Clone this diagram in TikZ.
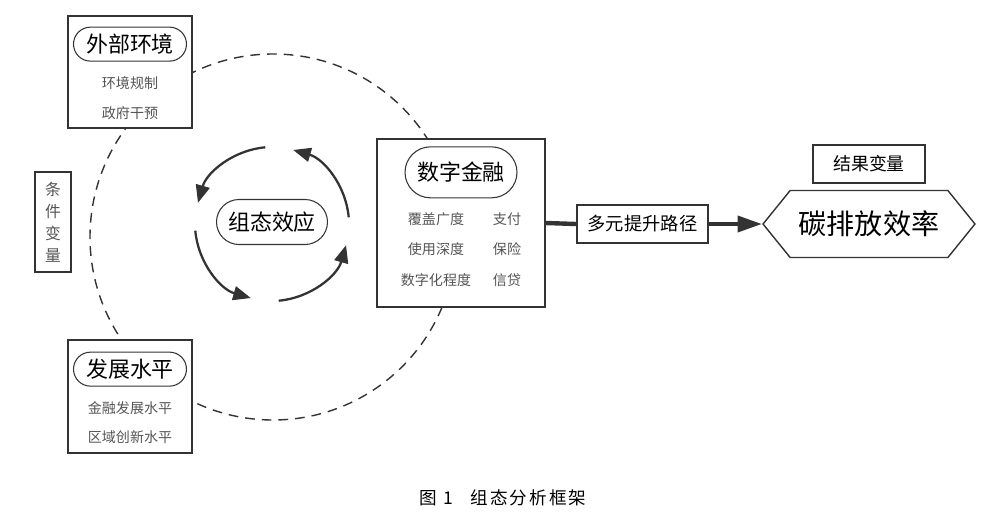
\documentclass[tikz,border=0pt]{standalone}
\usepackage{fontspec}
\usepackage{tikz}
\usetikzlibrary{arrows.meta,positioning,shapes.misc,shapes.symbols}
\newfontfamily\cjk{Noto Sans CJK SC}
\newfontfamily\cjkcap[LetterSpace=12]{Noto Sans CJK SC}
\definecolor{linegray}{HTML}{333333}
\definecolor{textgray}{HTML}{555555}

\begin{document}
\begin{tikzpicture}[x=0.02cm, y=0.02cm,
    every node/.style={inner sep=0pt, font=\cjk},
    outerbox/.style={draw=linegray, line width=0.8pt, fill=white},
    pill/.style={rounded rectangle, draw=linegray, line width=0.6pt, fill=white,
      font=\cjk\fontsize{12.5}{15}\selectfont},
    item/.style={text=textgray, font=\cjk\fontsize{8}{10}\selectfont},
    ring/.style={draw=linegray, line width=0.8pt, dash pattern=on 5.5pt off 4pt},
    spinarc/.style={draw=linegray, line width=1.3pt, -{Triangle[length=10pt, width=8pt]}},
    pipe/.style={draw=linegray, line width=2.5pt}]
  \useasboundingbox (0,0) rectangle (1000,522);

  % dashed ring behind the condition boxes
  \draw[ring] (273,285) circle[radius=183];

  % external environment
  \node[outerbox, minimum width=2.48cm, minimum height=2.24cm] (env) at (130,450) {};
  \node[pill, minimum width=2.26cm, minimum height=0.68cm, below=0.226cm of env.north] (envpill) {外部环境};
  \node[item] (envA) at (130,439) {环境规制};
  \node[item] (envB) at (130,409) {政府干预};

  % condition variable label
  \node[outerbox, minimum width=0.72cm, minimum height=2cm, align=center,
    text=textgray, font=\cjk\fontsize{9}{12.5}\selectfont] (cond) at (53,300) {条\\件\\变\\量};

  % development level
  \node[outerbox, minimum width=2.48cm, minimum height=2.26cm] (dev) at (130,125.5) {};
  \node[pill, minimum width=2.26cm, minimum height=0.68cm, below=0.246cm of dev.north] (devpill) {发展水平};
  \node[item] (devA) at (130,114) {金融发展水平};
  \node[item] (devB) at (130,85) {区域创新水平};

  % configuration effect
  \node[pill, minimum width=2.22cm, minimum height=0.9cm] (cfg) at (272,300) {组态效应};
  \coordinate (spin) at (272,298);
  \foreach \a in {0,90,180,270}
    \draw[spinarc] (spin) ++({\a+5}:77) arc[start angle=\a+5, end angle=\a+74, radius=77];

  % digital finance
  \node[outerbox, minimum width=3.36cm, minimum height=3.36cm] (dfin) at (461,299) {};
  \node[pill, minimum width=2.24cm, minimum height=1.02cm, below=0.16cm of dfin.north] (dfinpill) {数字金融};
  \node[item] (dfinA) at (436,303) {覆盖广度};
  \node[item] (dfinB) at (436,273) {使用深度};
  \node[item] (dfinC) at (436,242) {数字化程度};
  \node[item] (dfinD) at (507,303) {支付};
  \node[item] (dfinE) at (507,273) {保险};
  \node[item] (dfinF) at (507,242) {信贷};

  % path and outcome
  \node[outerbox, minimum width=2.62cm, minimum height=0.76cm,
    font=\cjk\fontsize{10.4}{12}\selectfont] (path) at (642.5,298) {多元提升路径};
  \node[outerbox, minimum width=2.24cm, minimum height=0.76cm,
    font=\cjk\fontsize{10.2}{12}\selectfont] (res) at (869,358) {结果变量};
  \node[signal, signal to=west and east, signal pointer angle=102, draw=linegray,
    line width=0.8pt, minimum width=4.24cm, minimum height=1.34cm,
    font=\cjk\fontsize{16}{18}\selectfont] (eff) at (869,298) {碳排放效率};

  \draw[pipe] (dfin.east) -- (path.west);
  \draw[pipe, -{Triangle[length=14pt, width=9pt]}] (path.east) -- (eff.west);

  % caption
  \node[font=\cjkcap\fontsize{10}{12}\selectfont] (cap) at (503,24) {图~1\quad 组态分析框架};
\end{tikzpicture}
\end{document}
